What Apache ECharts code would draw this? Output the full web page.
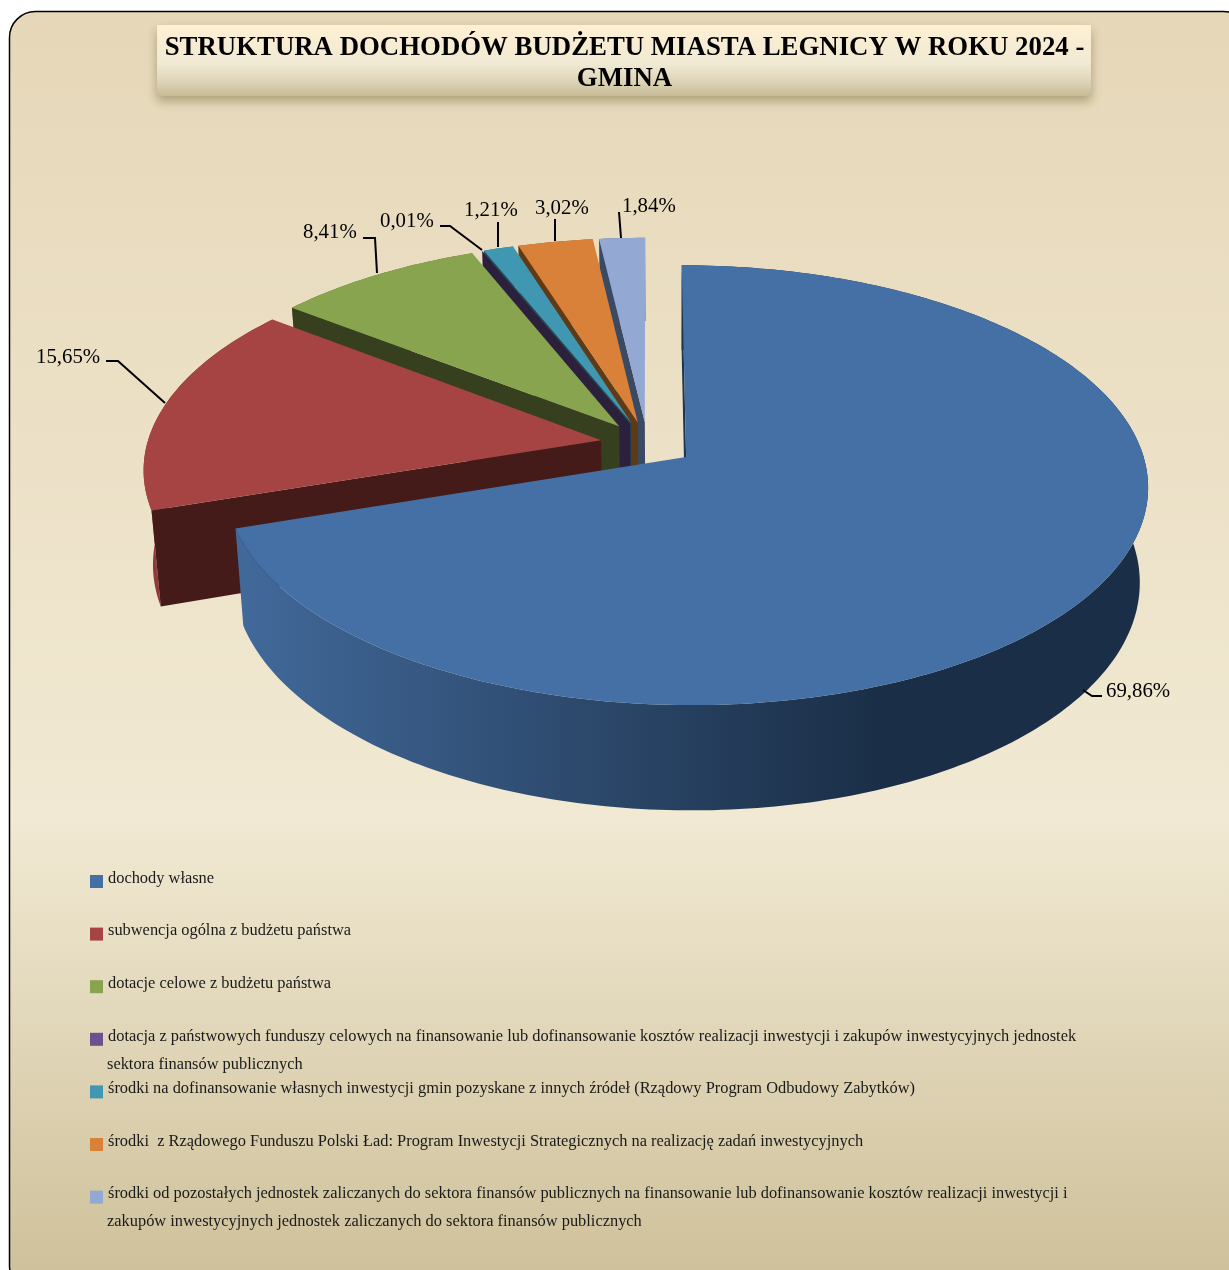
<!DOCTYPE html>
<html><head><meta charset="utf-8">
<style>html,body{margin:0;padding:0;background:#fff}#c{width:1229px;height:1270px}</style>
<script src="https://cdn.jsdelivr.net/npm/echarts@6/dist/echarts.min.js"></script>
</head><body><div id="c"></div>
<script>
const titleText = 'STRUKTURA DOCHODÓW BUDŻETU MIASTA LEGNICY W ROKU 2024 -\nGMINA';
const categories = [
 'dochody własne',
 'subwencja ogólna z budżetu państwa',
 'dotacje celowe z budżetu państwa',
 'dotacja z państwowych funduszy celowych na finansowanie lub dofinansowanie kosztów realizacji inwestycji i zakupów inwestycyjnych jednostek\nsektora finansów publicznych',
 'środki na dofinansowanie własnych inwestycji gmin pozyskane z innych źródeł (Rządowy Program Odbudowy Zabytków)',
 'środki  z Rządowego Funduszu Polski Ład: Program Inwestycji Strategicznych na realizację zadań inwestycyjnych',
 'środki od pozostałych jednostek zaliczanych do sektora finansów publicznych na finansowanie lub dofinansowanie kosztów realizacji inwestycji i\nzakupów inwestycyjnych jednostek zaliczanych do sektora finansów publicznych'
];
const values = [69.86, 15.65, 8.41, 0.01, 1.21, 3.02, 1.84];
const topColors = ['#4470A6','#A54443','#88A44E','#6C5190','#4097B2','#D98039','#93A8D2'];
const sideColors = ['#1E3550','#451B19','#363F1E','#2B213C','#1F4A57','#5E3A17','#3A4A62'];
const wallColors = [
 {type:'linear',x:240,y:0,x2:880,y2:0,global:true,colorStops:[{offset:0,color:'#41699A'},{offset:.55,color:'#2C486B'},{offset:1,color:'#1A2E47'}]},
 '#8F3A38','#5C7033','#4A3763','#2B6A7E','#9A5A28','#67779A'
];
// label layout: text anchor and leader polyline for each slice
const labelAnchors = [[1106,692],[36,358],[303,233],[380,222],[464,211],[535,209],[622,207]];
const leaders = [
 [[1102,696],[1092,696],[1083,690]],
 [[106,361],[118,361],[165,403]],
 [[363,238],[375,238],[377,273]],
 [[440,226],[450,226],[482,250]],
 [[498,222],[498,247]],
 [[555,219],[555,241]],
 [[619,212],[621,238]]
];
// projection of the tilted disc
const explode = 0.104, persp = 0.127;
const topFace = {cx:647.5, cy:444, rx:454, ry:213};
const baseFace = {cx:648, cy:537, rx:446, ry:223};
const project = (f,U,V)=>{const s=1/(1+persp*V);return [f.cx+f.rx*U*s, f.cy-f.ry*V*s];};
const total = values.reduce((a,b)=>a+b,0);
const starts = values.reduce((acc,v,i)=>{acc.push(i?acc[i-1]+values[i-1]/total*360:0);return acc;},[]);

function sliceRender(i){
 return function(params,api){
  const val = api.value(0);
  const a0 = starts[i]*Math.PI/180, a1 = a0 + val/total*2*Math.PI, m=(a0+a1)/2;
  const u0 = explode*Math.sin(m), v0 = explode*Math.cos(m);
  const steps = Math.max(2,Math.ceil((a1-a0)/(Math.PI/180)));
  const arc = f=>{const p=[];for(let k=0;k<=steps;k++){const a=a0+(a1-a0)*k/steps;p.push(project(f,u0+Math.sin(a),v0+Math.cos(a)));}return p;};
  const tArc=arc(topFace), bArc=arc(baseFace);
  const tA=project(topFace,u0,v0), bA=project(baseFace,u0,v0);
  const poly=(pts,fill)=>({type:'polygon',shape:{points:pts},style:{fill:fill},silent:true});
  const kids=[
   poly(tArc.concat(bArc.slice().reverse()),wallColors[i]),
   poly([tA,tArc[0],bArc[0],bA],sideColors[i]),
   poly([tA].concat(tArc),topColors[i])
  ];
  kids.push({type:'polyline',shape:{points:leaders[i]},style:{stroke:'#000',lineWidth:2,fill:null},z2:50,silent:true});
  kids.push({type:'text',x:labelAnchors[i][0],y:labelAnchors[i][1],z2:50,silent:true,
   style:{text:val.toFixed(2).replace('.',',')+'%',font:'20.8px "Liberation Serif"',fill:'#000',textVerticalAlign:'middle',textAlign:'left'}});
  return {type:'group',children:kids};
 };
}
const series = categories.map((name,i)=>({
 type:'custom',name:name,coordinateSystem:'none',silent:true,animation:false,
 z:9-i,
 itemStyle:{color:topColors[i]},
 encode:{value:0},
 data:[[values[i]]],
 renderItem:sliceRender(i)
}));
const secondLines = [['sektora finansów publicznych',1065],['zakupów inwestycyjnych jednostek zaliczanych do sektora finansów publicznych',1222]];
const fontLegend='16.4px "Liberation Serif"';
const chart = echarts.init(document.getElementById('c'),null,{renderer:'canvas'});
chart.setOption({
 animation:false,
 backgroundColor:'#fff',
 title:{text:titleText,left:619.5,top:28,textAlign:'center',
  textStyle:{fontFamily:'Liberation Serif',fontWeight:'bold',fontSize:26.8,lineHeight:31,color:'#000'},z:8},
 legend:{orient:'vertical',left:90,top:870.5,padding:0,itemWidth:13,itemHeight:13,itemGap:30.6,icon:'rect',selectedMode:false,
  data:categories,
  formatter:n=>'{a|'+n.split('\n')[0]+'}',
  textStyle:{color:'#1a1a1a',rich:{a:{fontFamily:'Liberation Serif',fontSize:16.4,color:'#1a1a1a',lineHeight:16,padding:[0,0,6,0]}}}},
 graphic:{elements:[
  {type:'rect',z:-20,shape:{x:9.5,y:11.5,width:1240,height:1280,r:26},silent:true,
   style:{stroke:'#000',lineWidth:1.5,fill:{type:'linear',x:0,y:0,x2:0,y2:1,colorStops:[{offset:0,color:'#E6D7B8'},{offset:.63,color:'#F1E9D3'},{offset:1,color:'#CDBF98'}]}}},
  {type:'rect',z:-10,shape:{x:157,y:25,width:934,height:71},silent:true,
   style:{shadowColor:'rgba(120,110,60,.55)',shadowBlur:10,shadowOffsetY:5,shadowOffsetX:0,
    fill:{type:'linear',x:0,y:0,x2:0,y2:1,colorStops:[{offset:0,color:'#FEF0D4'},{offset:.55,color:'#F0E9D3'},{offset:.78,color:'#DFD6BA'},{offset:1,color:'#C6BB95'}]}}},
  ...secondLines.map(l=>({type:'text',x:107,y:l[1],z:5,silent:true,style:{text:l[0],font:fontLegend,fill:'#1a1a1a',textVerticalAlign:'middle'}}))
 ]},
 series:series
});
</script></body></html>
